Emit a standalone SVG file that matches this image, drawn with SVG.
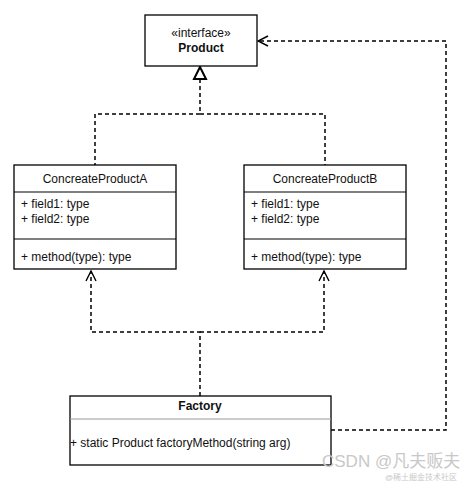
<svg xmlns="http://www.w3.org/2000/svg" width="475" height="481" viewBox="0 0 475 481">
<style>
.box{fill:#fff;stroke:#000;stroke-width:1.3}
.sep{stroke:#000;stroke-width:1.2;fill:none}
.gsep{stroke:#999;stroke-width:1;fill:none}
.t{font-family:"Liberation Sans",Arial,sans-serif;font-size:12px;fill:#111}
.c{text-anchor:middle}
.b{font-weight:bold}
.dash{fill:none;stroke:#000;stroke-width:1.5;stroke-dasharray:4 3}
.wm{font-family:"Liberation Sans","Noto Sans CJK SC",sans-serif;fill:#c8c8c8}
</style>
<defs>
<marker id="open" viewBox="0 0 12 12" refX="11" refY="6" markerWidth="12" markerHeight="12" markerUnits="userSpaceOnUse" orient="auto">
<path d="M1,1 L11,6 L1,11" fill="none" stroke="#000" stroke-width="1.4"/>
</marker>
</defs>
<g id="connectors">
<path class="dash" d="M200,79 V114 H95 V165"/>
<path class="dash" d="M200,114 H325 V165"/>
<path d="M194,79 L200,67 L206,79 Z" fill="#fff" stroke="#000" stroke-width="2"/>
<path class="dash" d="M200,396 V332 H91 V271" marker-end="url(#open)"/>
<path class="dash" d="M200,332 H324 V271" marker-end="url(#open)"/>
<path class="dash" d="M331,430 H446 V41 H258" marker-end="url(#open)"/>
</g>
<g id="product">
<rect class="box" x="145" y="15" width="112" height="51"/>
<text class="t c" x="201" y="37" font-size="11">«interface»</text>
<text class="t c b" x="201" y="52">Product</text>
</g>
<g id="concreteProductA">
<rect class="box" x="14" y="165" width="162" height="104"/>
<line class="sep" x1="14" y1="192" x2="176" y2="192"/>
<line class="sep" x1="14" y1="239" x2="176" y2="239"/>
<text class="t c" x="95" y="183" font-size="12.8">ConcreateProductA</text>
<text class="t" x="21" y="208">+ field1: type</text>
<text class="t" x="21" y="223">+ field2: type</text>
<text class="t" x="21" y="261">+ method(type): type</text>
</g>
<g id="concreteProductB">
<rect class="box" x="244" y="165" width="162" height="104"/>
<line class="sep" x1="244" y1="192" x2="406" y2="192"/>
<line class="sep" x1="244" y1="239" x2="406" y2="239"/>
<text class="t c" x="325" y="183" font-size="12.8">ConcreateProductB</text>
<text class="t" x="251" y="208">+ field1: type</text>
<text class="t" x="251" y="223">+ field2: type</text>
<text class="t" x="251" y="261">+ method(type): type</text>
</g>
<g id="factory">
<rect class="box" x="70" y="396" width="261" height="69"/>
<line class="gsep" x1="70" y1="419" x2="331" y2="419"/>
<text class="t c b" x="200" y="410">Factory</text>
<text class="t" x="70" y="447">+ static Product factoryMethod(string arg)</text>
</g>
<g id="watermark">
<text class="wm" x="322" y="467" font-size="17">CSDN @凡夫贩夫</text>
<text class="wm" x="385" y="480" font-size="8">@稀土掘金技术社区</text>
</g>
</svg>
